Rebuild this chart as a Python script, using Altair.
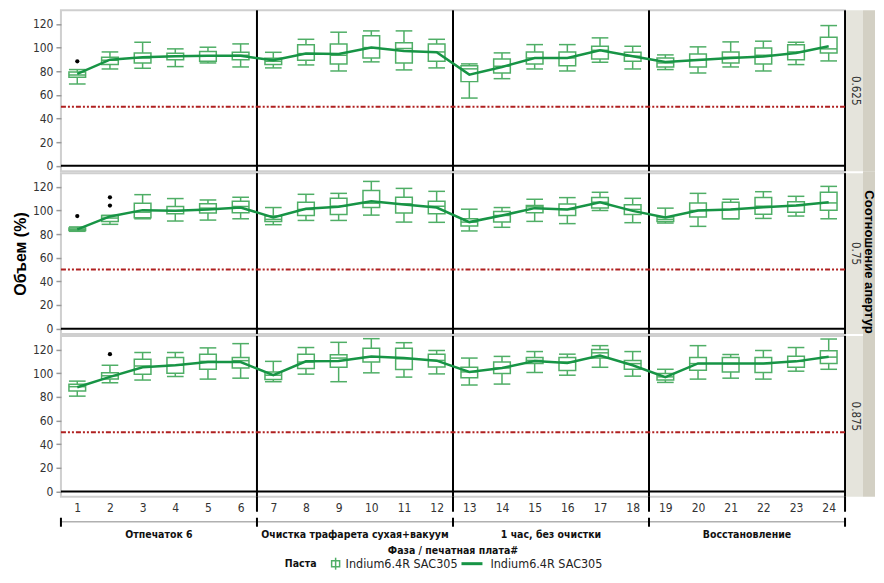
import altair as alt
import pandas as pd

# ---------------- data ----------------
boards = list(range(1, 25))
ratios = ["0.625", "0.75", "0.875"]
phases = ["Отпечаток 6", "Очистка трафарета сухая+вакуум", "1 час, без очистки", "Восстановление"]
phase_centers = [3.5, 9.5, 15.5, 21.5]
phase_bounds = [0.5, 6.5, 12.5, 18.5, 24.5]
divider_lines = [6.5, 12.5, 18.5, 24.5]
paste = "Indium6.4R SAC305"

# ratio 0.625
lo_1 = [69.2, 81.9, 82.5, 83.9, 87.0, 83.6, 82.8, 85.3, 80.2, 87.9, 81.1, 82.8, 57.3, 73.7, 81.9, 80.2, 87.6, 81.9, 81.4, 78.5, 83.6, 80.2, 85.6, 88.7]
q1_1 = [74.9, 85.6, 87.0, 89.8, 88.4, 89.8, 85.6, 89.3, 86.2, 91.2, 87.0, 88.4, 71.2, 78.5, 86.2, 84.7, 90.4, 88.4, 83.6, 83.6, 87.0, 86.2, 89.8, 95.5]
md_1 = [76.8, 89.3, 91.2, 92.7, 92.7, 93.5, 88.4, 94.9, 93.5, 100.0, 99.2, 96.3, 82.0, 84.2, 91.2, 91.2, 97.7, 92.7, 87.0, 89.8, 91.8, 93.5, 96.3, 98.9]
q3_1 = [79.4, 91.8, 95.5, 95.2, 96.6, 96.0, 91.0, 102.3, 103.1, 109.9, 104.0, 103.1, 84.7, 90.4, 96.3, 96.3, 101.1, 96.0, 91.2, 94.6, 96.3, 99.7, 102.3, 108.8]
hi_1 = [81.4, 96.3, 104.5, 98.9, 100.3, 103.1, 96.0, 107.0, 113.0, 114.1, 114.1, 107.0, 86.2, 95.5, 102.5, 102.5, 108.2, 101.1, 93.8, 100.6, 104.8, 105.4, 104.5, 118.6]
mn_1 = [77.7, 89.8, 91.8, 92.7, 93.0, 93.0, 89.3, 94.9, 94.6, 100.0, 97.2, 96.0, 77.1, 83.6, 91.2, 91.2, 97.7, 92.7, 87.9, 89.5, 91.2, 92.4, 95.5, 101.1]
out_b_1 = [1]
out_v_1 = [88.4]

# ratio 0.75
lo_2 = [82.3, 88.2, 92.9, 91.0, 91.8, 92.9, 87.9, 91.5, 91.5, 96.0, 90.1, 89.9, 82.6, 85.7, 90.7, 88.8, 99.9, 89.6, 89.3, 86.5, 92.9, 93.2, 95.2, 92.9]
q1_2 = [82.9, 90.7, 93.8, 97.1, 97.7, 98.0, 90.7, 95.7, 96.6, 102.4, 97.7, 97.1, 86.8, 90.1, 98.0, 95.7, 102.1, 96.6, 90.7, 94.3, 92.9, 96.8, 98.5, 100.2]
md_2 = [84.0, 93.5, 98.5, 99.6, 101.9, 103.3, 92.4, 100.8, 103.5, 106.1, 105.5, 103.5, 90.1, 95.7, 103.0, 100.8, 106.9, 100.8, 92.4, 99.9, 100.8, 103.5, 104.1, 106.3]
q3_2 = [85.1, 95.7, 106.0, 103.3, 105.7, 107.7, 95.2, 106.9, 110.2, 116.9, 111.1, 107.7, 92.9, 99.1, 104.1, 105.5, 110.8, 104.7, 94.3, 106.3, 106.9, 110.8, 107.2, 115.3]
hi_2 = [86.0, 95.7, 113.3, 110.0, 108.8, 111.1, 102.4, 113.6, 114.4, 124.5, 118.6, 116.1, 101.0, 102.4, 109.4, 110.8, 115.3, 110.2, 101.9, 114.4, 109.4, 115.8, 111.9, 120.3]
mn_2 = [84.0, 94.9, 100.2, 99.6, 100.8, 102.4, 94.1, 101.3, 103.0, 107.7, 104.9, 102.4, 90.1, 95.7, 101.9, 100.8, 106.9, 99.6, 94.1, 99.9, 100.8, 102.7, 104.1, 106.9]
out_b_2 = [1, 2, 2]
out_v_2 = [95.2, 111.1, 104.1]

# ratio 0.875
lo_3 = [80.6, 91.9, 94.2, 97.2, 95.0, 95.8, 92.8, 99.2, 92.8, 100.3, 96.7, 99.4, 90.0, 90.8, 100.6, 98.3, 105.0, 97.5, 92.2, 95.0, 95.8, 95.0, 101.7, 103.3]
q1_3 = [85.0, 95.0, 99.2, 100.0, 103.3, 104.4, 94.7, 103.9, 105.0, 109.4, 103.1, 105.3, 96.1, 99.7, 108.1, 102.2, 112.8, 103.3, 94.2, 102.5, 101.1, 100.6, 105.0, 108.3]
md_3 = [88.6, 97.8, 106.1, 106.7, 110.0, 110.6, 98.3, 109.4, 112.8, 113.6, 112.2, 110.8, 101.1, 104.4, 110.8, 109.4, 117.2, 108.1, 96.9, 108.1, 108.1, 108.1, 110.0, 113.6]
q3_3 = [90.6, 100.3, 111.7, 113.3, 116.1, 113.3, 101.1, 116.1, 115.6, 121.1, 121.1, 116.1, 105.0, 109.4, 113.3, 113.3, 120.0, 110.8, 99.7, 113.3, 113.3, 113.3, 114.4, 118.9]
hi_3 = [93.3, 106.7, 117.5, 117.5, 121.4, 125.0, 110.0, 121.7, 126.1, 129.2, 125.8, 119.2, 112.8, 114.2, 118.3, 116.1, 123.3, 118.3, 103.3, 123.3, 115.8, 119.2, 121.7, 128.9]
mn_3 = [88.1, 96.9, 105.0, 106.7, 109.4, 109.4, 98.3, 110.0, 110.3, 114.2, 112.8, 110.6, 101.1, 104.4, 110.3, 108.6, 115.0, 106.7, 96.7, 108.3, 108.3, 108.1, 110.0, 113.9]
out_b_3 = [2]
out_v_3 = [116.1]

spec_limit = 50

# ---------------- style ----------------
W, H = 785, 161
GREEN_BOX = "#4fae66"
GREEN_LINE = "#179445"
RED = "#b02020"
NARROW = "Liberation Sans Narrow, DejaVu Sans Condensed, Roboto, sans-serif"
BOLDF = "Liberation Sans, Arial, sans-serif"
HALF = 0.255

rows_data = [
    (lo_1, q1_1, md_1, q3_1, hi_1, mn_1, out_b_1, out_v_1),
    (lo_2, q1_2, md_2, q3_2, hi_2, mn_2, out_b_2, out_v_2),
    (lo_3, q1_3, md_3, q3_3, hi_3, mn_3, out_b_3, out_v_3),
]

one = pd.DataFrame({"a": [0]})


def make_row(i):
    lo, q1, md, q3, hi, mn, ob, ov = rows_data[i]
    box = pd.DataFrame({"board": boards, "lo": lo, "q1": q1, "med": md,
                        "q3": q3, "hi": hi, "mean": mn})
    outl = pd.DataFrame({"board": ob, "val": ov})
    last = i == 2

    xs = alt.Scale(domain=[0.5, 24.5], nice=False, zero=False)
    if last:
        xaxis = alt.Axis(values=boards, ticks=False, domain=False, grid=False,
                         labelFont=NARROW, labelFontSize=12, labelColor="#333",
                         labelPadding=6, title=None)
    else:
        xaxis = None
    ys = alt.Scale(domain=[-4.5, 131.5], nice=False, zero=False)
    yaxis = alt.Axis(values=[0, 20, 40, 60, 80, 100, 120], grid=False, domain=False,
                     tickColor="#999", tickSize=5, tickWidth=1.5,
                     labelFont=NARROW, labelFontSize=12, labelColor="#333", labelPadding=3,
                     title="Объем (%)", titleFont=BOLDF, titleFontSize=16,
                     titleFontWeight="bold", titleColor="black", titlePadding=4,
                     titleOpacity=1 if i == 1 else 0)

    def X(f):
        return alt.X(f, type="quantitative", scale=xs, axis=xaxis)

    def Y(f):
        return alt.Y(f, type="quantitative", scale=ys, axis=yaxis)

    base = alt.Chart(box).transform_calculate(
        x0=f"datum.board - {HALF}", x1=f"datum.board + {HALF}")

    zero_line = alt.Chart(pd.DataFrame({"z": [0]})).mark_rule(
        color="black", strokeWidth=2).encode(y=Y("z"))
    red_line = alt.Chart(pd.DataFrame({"r": [spec_limit]})).mark_rule(
        color=RED, strokeWidth=2, strokeDash=[5, 2, 2, 2, 2, 2]).encode(y=Y("r"))
    vlines = alt.Chart(pd.DataFrame({"b": divider_lines})).mark_rule(
        color="black", strokeWidth=2).encode(x=X("b"))

    w_lo = base.mark_rule(color=GREEN_BOX, strokeWidth=1.5).encode(
        x=X("board"), y=Y("lo"), y2="q1")
    w_hi = base.mark_rule(color=GREEN_BOX, strokeWidth=1.5).encode(
        x=X("board"), y=Y("q3"), y2="hi")
    cap_lo = base.mark_rule(color=GREEN_BOX, strokeWidth=1.5).encode(
        x=X("x0:Q"), x2="x1:Q", y=Y("lo"))
    cap_hi = base.mark_rule(color=GREEN_BOX, strokeWidth=1.5).encode(
        x=X("x0:Q"), x2="x1:Q", y=Y("hi"))
    rect = base.mark_rect(fillOpacity=0, stroke=GREEN_BOX, strokeWidth=1.5).encode(
        x=X("x0:Q"), x2="x1:Q", y=Y("q1"), y2="q3")
    med = base.mark_rule(color=GREEN_BOX, strokeWidth=1.5).encode(
        x=X("x0:Q"), x2="x1:Q", y=Y("med"))
    line = base.mark_line(color=GREEN_LINE, strokeWidth=2.5).encode(
        x=X("board"), y=Y("mean"))
    pts = alt.Chart(outl).mark_circle(color="black", size=18, opacity=1).encode(
        x=X("board"), y=Y("val"))

    # right strips
    top = 0 if i == 0 else -2
    strip = alt.Chart(one).mark_rect(color="#e5e4dc").encode(
        x=alt.value(W + 1), x2=alt.value(W + 18), y=alt.value(0), y2=alt.value(H))
    band = alt.Chart(one).mark_rect(color="#d3d0c4").encode(
        x=alt.value(W + 18), x2=alt.value(W + 30), y=alt.value(top), y2=alt.value(H))
    lab = alt.Chart(pd.DataFrame({"t": [ratios[i]]})).mark_text(
        angle=90, font=NARROW, fontSize=11.5, color="#333").encode(
        x=alt.value(W + 9.5), y=alt.value(H / 2), text="t:N")

    layers = [vlines, zero_line, red_line, w_lo, w_hi, cap_lo, cap_hi, rect, med,
              line, pts, strip, band, lab]

    if i == 1:
        layers.append(alt.Chart(one).mark_text(
            angle=90, font=BOLDF, fontSize=13, fontWeight="bold", color="black").encode(
            x=alt.value(W + 23.5), y=alt.value(H / 2 + 14), text=alt.value("Соотношение апертуры")))

    if last:
        ext = alt.Chart(pd.DataFrame({"b": divider_lines})).mark_rule(
            color="black", strokeWidth=2).encode(x=X("b"), y=alt.value(H), y2=alt.value(H + 15))
        bracket = alt.Chart(one).mark_rule(color="#b0b0b0", strokeWidth=1.5).encode(
            x=alt.value(0), x2=alt.value(W), y=alt.value(H + 25))
        bticks = alt.Chart(pd.DataFrame({"b": phase_bounds})).mark_rule(
            color="black", strokeWidth=2).encode(x=X("b"), y=alt.value(H + 21), y2=alt.value(H + 30))
        glabels = alt.Chart(pd.DataFrame({"c": phase_centers, "p": phases})).mark_text(
            font=NARROW, fontSize=10.5, fontWeight="bold", color="#111").encode(
            x=X("c"), y=alt.value(H + 38), text="p:N")
        xtitle = alt.Chart(one).mark_text(
            font=NARROW, fontSize=10.5, fontWeight="bold", color="#111").encode(
            x=alt.value(W / 2), y=alt.value(H + 54), text=alt.value("Фаза / печатная плата#"))
        ly = H + 67
        leg_title = alt.Chart(one).mark_text(
            font=NARROW, fontSize=10.5, fontWeight="bold", color="#111").encode(
            x=alt.value(240), y=alt.value(ly), text=alt.value("Паста"))
        leg_box = alt.Chart(one).mark_rect(fillOpacity=0, stroke=GREEN_BOX, strokeWidth=1.5).encode(
            x=alt.value(271), x2=alt.value(279), y=alt.value(ly - 3), y2=alt.value(ly + 3))
        leg_wh = alt.Chart(one).mark_rule(color=GREEN_BOX, strokeWidth=1.5).encode(
            x=alt.value(275), y=alt.value(ly - 6), y2=alt.value(ly + 6))
        leg_t1 = alt.Chart(pd.DataFrame({"t": [paste]})).mark_text(
            font=NARROW, fontSize=12.5, align="left", color="#222").encode(
            x=alt.value(285), y=alt.value(ly), text="t:N")
        leg_line = alt.Chart(one).mark_rule(color=GREEN_LINE, strokeWidth=3).encode(
            x=alt.value(401), x2=alt.value(422), y=alt.value(ly))
        leg_t2 = alt.Chart(pd.DataFrame({"t": [paste]})).mark_text(
            font=NARROW, fontSize=12.5, align="left", color="#222").encode(
            x=alt.value(430), y=alt.value(ly), text="t:N")
        layers += [ext, bracket, bticks, glabels, xtitle, leg_title, leg_box, leg_wh,
                   leg_t1, leg_line, leg_t2]

    return alt.layer(*layers).properties(width=W, height=H)


chart = alt.vconcat(make_row(0), make_row(1), make_row(2), spacing=2, bounds="flush").properties(
    padding={"left": 3, "top": 0, "right": 0, "bottom": 0}
).configure_view(stroke="#cfcfcf", strokeWidth=2)

chart.save("out.html", embed_options={"renderer": "svg", "actions": False})
